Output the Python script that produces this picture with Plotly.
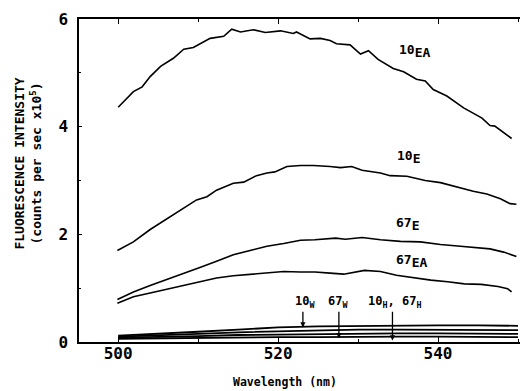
import plotly.graph_objects as go

# ---- data (wavelength nm, intensity x1e5 counts/s) ----
wl_10EA = [500.0, 501.9, 503.0, 504.0, 505.3, 506.9, 508.2, 509.4, 511.5, 513.2, 514.2, 515.3,
           516.9, 518.4, 520.3, 521.9, 522.3, 524.0, 525.3, 526.5, 527.3, 529.0, 530.3, 531.3,
           532.5, 534.4, 535.7, 537.3, 538.4, 539.4, 541.1, 543.2, 545.5, 546.5, 547.1, 548.2, 549.2]
int_10EA = [4.36, 4.65, 4.74, 4.93, 5.12, 5.27, 5.44, 5.47, 5.64, 5.68, 5.81, 5.76,
            5.80, 5.75, 5.78, 5.73, 5.76, 5.63, 5.64, 5.60, 5.54, 5.52, 5.35, 5.41,
            5.25, 5.08, 5.02, 4.88, 4.85, 4.69, 4.57, 4.35, 4.16, 4.02, 4.01, 3.89, 3.78]

wl_10E = [499.9, 501.9, 504.0, 506.1, 508.2, 509.8, 511.1, 512.3, 514.4, 515.7, 517.3, 518.6,
          519.6, 521.1, 522.8, 524.4, 526.5, 527.8, 529.2, 530.5, 532.8, 534.0, 536.1, 538.4,
          540.3, 542.3, 544.4, 546.1, 547.8, 549.0, 549.8]
int_10E = [1.70, 1.86, 2.09, 2.29, 2.48, 2.64, 2.70, 2.82, 2.95, 2.97, 3.09, 3.14,
           3.16, 3.26, 3.28, 3.28, 3.26, 3.24, 3.26, 3.19, 3.14, 3.09, 3.08, 3.00,
           2.96, 2.88, 2.80, 2.75, 2.66, 2.57, 2.56]

wl_67E = [499.9, 501.9, 504.0, 506.1, 508.2, 510.3, 512.3, 514.4, 516.5, 518.6, 520.7, 522.8,
          524.6, 527.2, 528.4, 530.5, 532.8, 535.3, 537.8, 540.3, 542.8, 544.8, 546.5, 548.2, 549.8]
int_67E = [0.79, 0.93, 1.05, 1.16, 1.27, 1.39, 1.50, 1.62, 1.70, 1.78, 1.83, 1.89,
           1.90, 1.93, 1.91, 1.94, 1.90, 1.87, 1.86, 1.81, 1.78, 1.76, 1.73, 1.67, 1.59]

wl_67EA = [499.9, 501.9, 504.0, 506.1, 508.2, 510.3, 512.3, 514.4, 516.5, 518.6, 520.7, 522.8,
           524.6, 526.5, 528.2, 530.8, 532.8, 534.8, 537.0, 539.1, 541.2, 543.3, 545.4, 547.5,
           548.7, 549.2]
int_67EA = [0.72, 0.84, 0.91, 0.98, 1.05, 1.13, 1.19, 1.23, 1.26, 1.28, 1.31, 1.30,
            1.30, 1.28, 1.26, 1.33, 1.31, 1.24, 1.19, 1.15, 1.12, 1.08, 1.07, 1.03,
            0.99, 0.93]

wl_low = [500, 505, 510, 515, 520, 525, 530, 535, 540, 545, 550]
int_10W = [0.12, 0.15, 0.19, 0.23, 0.27, 0.29, 0.30, 0.31, 0.31, 0.31, 0.30]
int_67W = [0.10, 0.12, 0.15, 0.18, 0.20, 0.22, 0.23, 0.23, 0.23, 0.23, 0.22]
int_10H = [0.08, 0.09, 0.11, 0.13, 0.14, 0.15, 0.16, 0.16, 0.16, 0.16, 0.15]
int_67H = [0.06, 0.07, 0.07, 0.08, 0.09, 0.09, 0.10, 0.10, 0.10, 0.10, 0.09]

x_ticks = [500, 520, 540]
y_ticks = [0, 2, 4, 6]

# curve labels (text, wavelength, intensity)
labels = [("10", "EA", 534.9, 5.41), ("10", "E", 534.6, 3.43),
          ("67", "E", 534.5, 2.20), ("67", "EA", 534.5, 1.50)]
# arrow labels for the low curves (text, label wavelength, arrow wavelength, arrow tip)
arrow_labels = [("10<sub>W</sub>", 521.9, 523.1, 0.27), ("67<sub>W</sub>", 526.0, 527.6, 0.07),
                ("10<sub>H</sub>, 67<sub>H</sub>", 531.0, 534.3, 0.03)]

FONT = "DejaVu Sans Mono"

fig = go.Figure()
for xs, ys, w in [(wl_10EA, int_10EA, 1.6), (wl_10E, int_10E, 1.6), (wl_67E, int_67E, 1.6),
                  (wl_67EA, int_67EA, 1.6), (wl_low, int_10W, 1.8), (wl_low, int_67W, 1.8),
                  (wl_low, int_10H, 1.8), (wl_low, int_67H, 1.8)]:
    fig.add_trace(go.Scatter(x=xs, y=ys, mode="lines", line=dict(color="black", width=w),
                             showlegend=False, hoverinfo="skip"))

# invisible trace for right axis ticks
fig.add_trace(go.Scatter(x=[500], y=[0], yaxis="y2", mode="markers",
                         marker=dict(opacity=0), showlegend=False, hoverinfo="skip"))

for main, sub, x, y in labels:
    fig.add_annotation(x=x, y=y, showarrow=False, xanchor="left",
                       text=f"{main}<sub><span style='font-size:13px'>{sub}</span></sub>",
                       font=dict(family=FONT, size=13, color="black", weight="bold"))

for txt, lx, ax_, tip in arrow_labels:
    fig.add_annotation(x=ax_, y=tip, ax=ax_, ay=0.59, axref="x", ayref="y",
                       text="", showarrow=True, arrowhead=2, arrowsize=0.8,
                       arrowwidth=1.3, arrowcolor="black")
    fig.add_annotation(x=lx, y=0.74, text=txt, showarrow=False, xanchor="left",
                       font=dict(family=FONT, size=12, color="black", weight="bold"))

# axis titles
fig.add_annotation(xref="paper", yref="paper", x=0.461, y=-0.124, text="Wavelength (nm)",
                   showarrow=False, xanchor="center", yanchor="middle",
                   font=dict(family=FONT, size=11.5, color="black", weight="bold"))
fig.add_annotation(xref="paper", yref="paper", x=-0.113, y=0.554,
                   text="FLUORESCENCE INTENSITY<br>(counts per sec x10<sup>5</sup>)",
                   showarrow=False, textangle=-90, xanchor="center", yanchor="middle",
                   font=dict(family=FONT, size=13, color="black", weight="bold"))

# dotted right border
fig.add_shape(type="line", xref="paper", yref="paper", x0=1, x1=1, y0=0, y1=1,
              line=dict(color="#888", width=1, dash="dot"))

# page body has an 8px margin; figure is sized so that it ends at the window edge
fig.update_layout(
    width=520, height=383,
    margin=dict(l=71, r=2, t=11, b=49),
    paper_bgcolor="white", plot_bgcolor="white",
    font=dict(family=FONT, color="black"),
    xaxis=dict(range=[495.1, 551.0], tickvals=x_ticks, ticks="inside", ticklen=5,
               tickwidth=1.3, tickcolor="black", showline=True, linecolor="black",
               linewidth=2, mirror="ticks", showgrid=False, zeroline=False, automargin=False,
               tickfont=dict(family=FONT, size=16, weight="bold"), ticklabelstandoff=-4,
               minor=dict(dtick=10, tick0=500, ticks="inside", ticklen=3, tickcolor="black")),
    yaxis=dict(range=[0, 6], tickvals=y_ticks, ticks="inside", ticklen=3,
               tickcolor="black", showline=True, linecolor="black", linewidth=1.5,
               showgrid=False, zeroline=False, automargin=False,
               tickfont=dict(family=FONT, size=16, weight="bold"), ticklabelstandoff=6,
               minor=dict(dtick=1, ticks="inside", ticklen=2, tickcolor="black")),
    yaxis2=dict(range=[0, 6], overlaying="y", side="right", tickvals=[1, 2, 3, 4, 5],
                ticks="inside", ticklen=3, tickcolor="black", showticklabels=False,
                showline=False, showgrid=False, zeroline=False, automargin=False),
)

fig.write_html("out.html")
